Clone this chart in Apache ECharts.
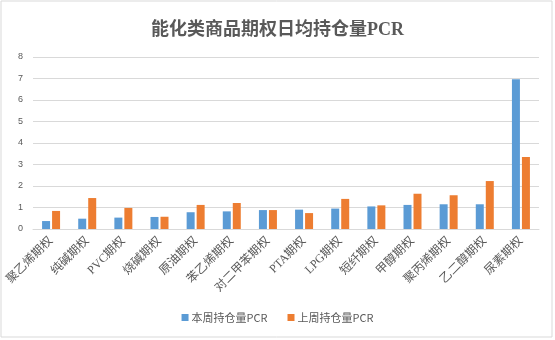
<!DOCTYPE html>
<html>
<head>
<meta charset="utf-8">
<script src="https://cdn.jsdelivr.net/npm/echarts@6/dist/echarts.min.js"></script>
<style>
  html, body { margin: 0; padding: 0; background: #fff; }
  #chart { width: 555px; height: 340px; }
</style>
</head>
<body>
<div id="chart"></div>
<script>
// Energy & chemical options: daily average open-interest put/call ratio
const categories = ['聚乙烯期权', '纯碱期权', 'PVC期权', '烧碱期权', '原油期权', '苯乙烯期权', '对二甲苯期权',
  'PTA期权', 'LPG期权', '短纤期权', '甲醇期权', '聚丙烯期权', '乙二醇期权', '尿素期权'];
const thisWeek = [0.37, 0.48, 0.53, 0.56, 0.78, 0.82, 0.88, 0.90, 0.95, 1.05, 1.12, 1.15, 1.15, 6.96];
const lastWeek = [0.84, 1.44, 0.98, 0.57, 1.12, 1.21, 0.88, 0.74, 1.40, 1.10, 1.64, 1.57, 2.23, 3.35];
const seriesNames = ['本周持仓量PCR', '上周持仓量PCR'];
const yTicks = { min: 0, max: 8, interval: 1 };

const chart = echarts.init(document.getElementById('chart'));
chart.setOption({
  animation: false,
  backgroundColor: '#ffffff',
  graphic: [{
    type: 'rect',
    shape: { x: 1, y: 1, width: 551, height: 336 },
    style: { fill: 'none', stroke: '#d9d9d9', lineWidth: 1 },
    silent: true
  }],
  title: {
    text: '能化类商品期权日均持仓量PCR',
    left: 'center',
    top: 16,
    textStyle: { fontFamily: '"Liberation Serif", "Noto Sans CJK SC"', fontSize: 18, fontWeight: 'bold', color: '#595959' }
  },
  legend: {
    bottom: 12,
    left: 'center',
    itemWidth: 7,
    itemHeight: 7,
    itemGap: 20,
    icon: 'rect',
    textStyle: { fontFamily: '"Noto Sans CJK SC"', fontSize: 11, color: '#595959', padding: [0, 0, 0, -2] },
    data: seriesNames
  },
  grid: { left: 33, right: 16, top: 57, bottom: 111, containLabel: false },
  xAxis: {
    type: 'category',
    data: categories,
    axisLine: { lineStyle: { color: '#d9d9d9' } },
    axisTick: { show: false },
    axisLabel: {
      rotate: 45,
      interval: 0,
      margin: 10,
      fontFamily: '"Liberation Serif", "Noto Sans CJK SC"',
      fontSize: 12,
      color: '#595959'
    }
  },
  yAxis: {
    type: 'value',
    min: yTicks.min,
    max: yTicks.max,
    interval: yTicks.interval,
    axisLine: { show: false },
    axisTick: { show: false },
    axisLabel: { fontSize: 9, color: '#595959', margin: 10, fontFamily: 'Liberation Sans' },
    splitLine: { lineStyle: { color: '#d9d9d9', width: 1 } }
  },
  series: [
    {
      name: seriesNames[0],
      type: 'bar',
      data: thisWeek,
      barWidth: 8,
      barGap: '25%',
      itemStyle: { color: '#5b9bd5' }
    },
    {
      name: seriesNames[1],
      type: 'bar',
      data: lastWeek,
      barWidth: 8,
      itemStyle: { color: '#ed7d31' }
    }
  ]
});
</script>
</body>
</html>
